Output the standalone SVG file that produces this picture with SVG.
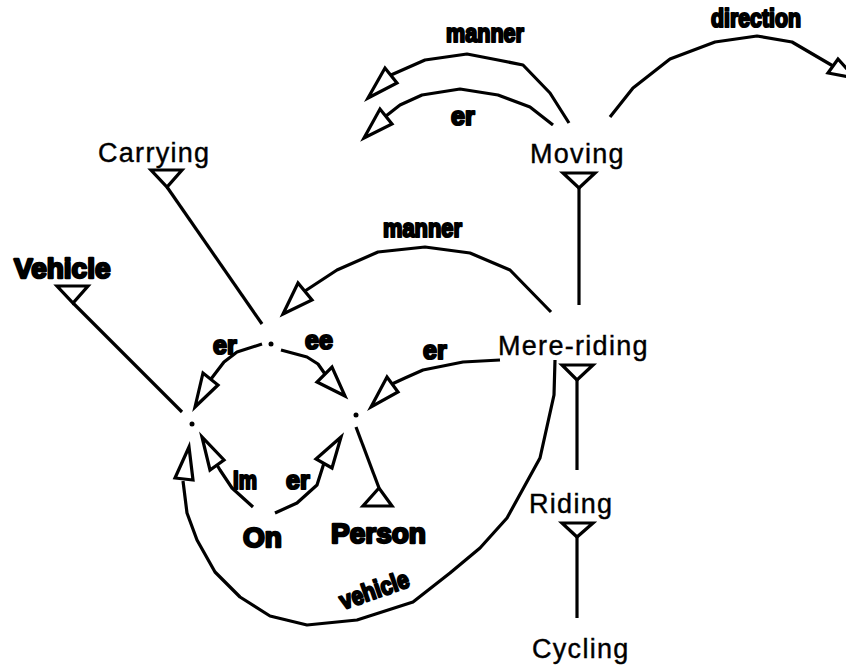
<svg xmlns="http://www.w3.org/2000/svg" width="846" height="666" viewBox="0 0 846 666">
<style>
.bg{fill:#fff}
.ln{fill:none;stroke:#000;stroke-width:3.2;stroke-linejoin:round}
.ah{fill:#fff;stroke:#000;stroke-width:3.2;stroke-linejoin:miter}
.dot{fill:#000}
.reg{font-family:"Liberation Sans",Arial,sans-serif;font-size:27px;letter-spacing:1.3px;fill:#000;stroke:#000;stroke-width:0.4px}
.big{font-family:"Liberation Sans",Arial,sans-serif;font-size:28px;font-weight:bold;fill:#000;stroke:#000;stroke-width:2.4px;stroke-linejoin:round}
.sm{font-family:"Liberation Sans",Arial,sans-serif;font-size:25px;font-weight:bold;fill:#000;stroke:#000;stroke-width:2.2px;stroke-linejoin:round}
</style>
<rect class="bg" x="0" y="0" width="846" height="666"/>
<g id="connectors">
  <g id="sub-carrying"><line class="ln" x1="167" y1="187" x2="262" y2="324"/><polygon class="ah" points="151,170 182,170 167,187"/></g>
  <g id="sub-vehicle"><line class="ln" x1="73" y1="303" x2="182" y2="412"/><polygon class="ah" points="57,286 88,286 73,303"/></g>
  <g id="sub-moving"><line class="ln" x1="579" y1="188" x2="579" y2="305"/><polygon class="ah" points="563,173 595,173 579,188"/></g>
  <g id="sub-mereriding"><line class="ln" x1="577" y1="380" x2="577" y2="470"/><polygon class="ah" points="562,365 593,365 577,380"/></g>
  <g id="sub-riding"><line class="ln" x1="577" y1="537" x2="577" y2="618"/><polygon class="ah" points="562,523 593,523 577,537"/></g>
  <g id="sub-person"><line class="ln" x1="356" y1="427" x2="379" y2="488"/><polygon class="ah" points="363,506 392,506 379,488"/></g>
  <g id="arc-top-manner"><polyline class="ln" points="569,123 550,93 523,65 498,60 467,54 425,60 391,75"/><polygon class="ah" points="368,98 385,68 397,83"/><text class="sm" x="446" y="42" textLength="78" lengthAdjust="spacingAndGlyphs">manner</text></g>
  <g id="arc-top-er"><polyline class="ln" points="553,125 530,107 498,95 460,89 422,95 400,105 386,116"/><polygon class="ah" points="364,138 380,109 392,124"/><text class="sm" x="451" y="125">er</text></g>
  <g id="arc-direction"><polyline class="ln" points="610,117 633,88 670,59 715,42 757,36 792,42 833,66"/><polygon class="ah" points="855,78 828,73 838,59"/><text class="sm" x="711" y="27" textLength="90" lengthAdjust="spacingAndGlyphs">direction</text></g>
  <g id="arc-mid-manner"><polyline class="ln" points="551,312 510,270 470,253 425,247 378,252 337,270 305,291"/><polygon class="ah" points="283,314 298,283 312,300"/><text class="sm" x="383" y="237" textLength="79" lengthAdjust="spacingAndGlyphs">manner</text></g>
  <g id="arc-left-er"><polyline class="ln" points="262,344 237,352 224,362 211,379"/><polygon class="ah" points="195,407 203,373 218,385"/><text class="sm" x="213" y="354">er</text></g>
  <g id="arc-ee"><polyline class="ln" points="281,350 307,357 318,364 325,374"/><polygon class="ah" points="345,396 317,382 332,367"/><text class="sm" x="305" y="349">ee</text></g>
  <g id="arc-mid-er"><polyline class="ln" points="500,360 463,362 423,370 405,378 392,384"/><polygon class="ah" points="371,407 387,377 398,392"/><text class="sm" x="423" y="359">er</text></g>
  <g id="arc-im"><polyline class="ln" points="253,507 232,488 220,470 217,465"/><polygon class="ah" points="202,437 210,470 224,460"/><text class="sm" x="233" y="489" textLength="24" lengthAdjust="spacingAndGlyphs">Im</text></g>
  <g id="arc-bottom-er"><polyline class="ln" points="275,513 297,503 317,485 324,463"/><polygon class="ah" points="341,437 316,459 332,468"/><text class="sm" x="286" y="489">er</text></g>
  <g id="arc-vehicle"><polyline class="ln" points="555,360 554,395 540,458 507,518 480,548 450,573 413,602 357,620 307,625 270,616 240,597 215,572 197,540 187,513 183,481"/><polygon class="ah" points="189,447 175,478 193,480"/><text class="sm" transform="translate(377,598) rotate(-19)" x="0" y="0" text-anchor="middle" textLength="72" lengthAdjust="spacingAndGlyphs">vehicle</text></g>
</g>
<g id="node-moving"><text class="reg" x="530" y="163">Moving</text></g>
<g id="node-carrying"><text class="reg" x="98" y="162">Carrying</text></g>
<g id="node-mereriding"><text class="reg" x="498" y="355">Mere-riding</text></g>
<g id="node-riding"><text class="reg" x="529" y="513">Riding</text></g>
<g id="node-cycling"><text class="reg" x="532" y="658">Cycling</text></g>
<g id="node-vehicle"><text class="big" x="14" y="278">Vehicle</text></g>
<g id="node-on"><text class="big" x="243" y="547">On</text></g>
<g id="node-person"><text class="big" x="331" y="543">Person</text></g>
<g id="node-carrying-instance"><circle class="dot" cx="271" cy="344" r="2.5"/></g>
<g id="node-vehicle-instance"><circle class="dot" cx="192" cy="424" r="2.5"/></g>
<g id="node-person-instance"><circle class="dot" cx="356" cy="415" r="2.5"/></g>
</svg>
